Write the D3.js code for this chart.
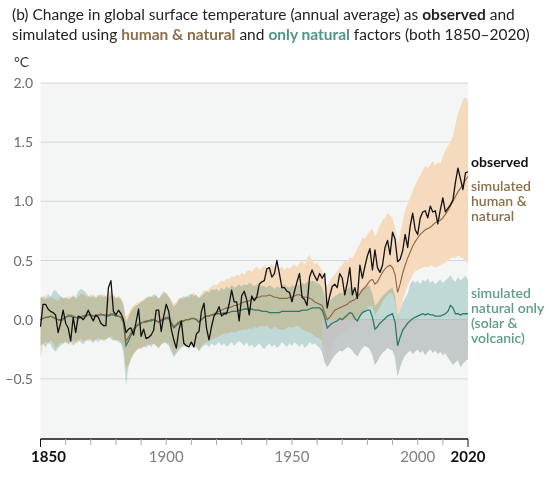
<!DOCTYPE html>
<html>
<head>
<meta charset="utf-8">
<script src="https://cdn.jsdelivr.net/npm/d3@7"></script>
<style>
  body { margin: 0; background: #fff; }
  svg text { font-family: Lato, "Open Sans", sans-serif; }
</style>
</head>
<body>
<div id="chart"></div>
<script>
// annual values, 1850-2020, degC relative to 1850-1900
var years = d3.range(1850, 2021);

var observed = [
  -0.06, 0.13, 0.13, 0.09, 0.07, 0.06, 0.04, -0.11, -0.03, 0.08,
  -0.03, -0.07, -0.18, 0.02, -0.11, 0.03, 0.02, 0.00, 0.03, 0.08,
  0.03, -0.01, 0.04, 0.02, -0.03, -0.05, -0.05, 0.27, 0.33, 0.07,
  0.04, 0.08, 0.05, 0.00, -0.11, -0.08, -0.07, -0.13, -0.02, 0.09,
  -0.14, -0.08, -0.16, -0.15, -0.13, -0.09, 0.08, 0.08, -0.10, 0.03,
  0.13, 0.07, -0.08, -0.17, -0.24, -0.09, -0.01, -0.20, -0.22, -0.23,
  -0.19, -0.23, -0.12, -0.10, 0.07, 0.14, -0.07, -0.17, -0.06, 0.03,
  0.06, 0.11, 0.03, 0.05, 0.05, 0.13, 0.25, 0.15, 0.15, -0.01,
  0.20, 0.24, 0.17, 0.04, 0.20, 0.16, 0.19, 0.30, 0.32, 0.33,
  0.43, 0.44, 0.36, 0.39, 0.50, 0.39, 0.27, 0.27, 0.24, 0.23,
  0.15, 0.24, 0.32, 0.39, 0.19, 0.17, 0.12, 0.36, 0.42, 0.37,
  0.33, 0.39, 0.35, 0.39, 0.10, 0.20, 0.28, 0.30, 0.27, 0.39,
  0.35, 0.21, 0.31, 0.44, 0.21, 0.27, 0.18, 0.46, 0.35, 0.45,
  0.54, 0.60, 0.42, 0.59, 0.44, 0.40, 0.46, 0.61, 0.67, 0.55,
  0.74, 0.68, 0.49, 0.51, 0.58, 0.72, 0.61, 0.79, 0.90, 0.76,
  0.72, 0.86, 0.91, 0.92, 0.86, 0.96, 0.91, 0.92, 0.81, 0.93,
  1.03, 0.91, 0.94, 0.97, 1.01, 1.16, 1.28, 1.19, 1.10, 1.24,
  1.25
];

// simulated human & natural: model mean and range
var humanMean = [
  0.00, 0.01, 0.02, 0.02, 0.03, 0.02, 0.01, 0.00, -0.01, 0.00,
  0.02, 0.04, 0.04, 0.03, 0.02, 0.01, 0.02, 0.03, 0.04, 0.04,
  0.04, 0.03, 0.03, 0.04, 0.05, 0.04, 0.04, 0.04, 0.05, 0.05,
  0.04, 0.03, 0.02, -0.02, -0.18, -0.15, -0.11, -0.08, -0.05, -0.04,
  -0.03, -0.02, -0.01, -0.01, 0.00, 0.00, -0.01, -0.02, 0.00, 0.01,
  0.02, 0.02, -0.02, -0.06, -0.04, -0.02, -0.01, -0.01, 0.00, 0.00,
  0.01, 0.01, 0.00, -0.02, 0.00, 0.02, 0.03, 0.03, 0.04, 0.05,
  0.06, 0.07, 0.08, 0.09, 0.10, 0.10, 0.11, 0.12, 0.12, 0.13,
  0.14, 0.15, 0.15, 0.16, 0.17, 0.18, 0.19, 0.19, 0.20, 0.20,
  0.20, 0.21, 0.20, 0.19, 0.19, 0.18, 0.18, 0.18, 0.18, 0.19,
  0.19, 0.20, 0.21, 0.21, 0.20, 0.19, 0.19, 0.18, 0.17, 0.15,
  0.14, 0.13, 0.12, 0.06, 0.00, 0.02, 0.05, 0.08, 0.09, 0.10,
  0.11, 0.12, 0.13, 0.15, 0.16, 0.17, 0.19, 0.22, 0.25, 0.27,
  0.30, 0.33, 0.34, 0.30, 0.32, 0.36, 0.40, 0.43, 0.45, 0.46,
  0.44, 0.38, 0.23, 0.30, 0.39, 0.46, 0.52, 0.57, 0.62, 0.66,
  0.69, 0.72, 0.74, 0.76, 0.77, 0.78, 0.80, 0.82, 0.83, 0.84,
  0.86, 0.89, 0.92, 0.96, 1.00, 1.04, 1.08, 1.11, 1.14, 1.18,
  1.21
];
var humanHigh = [
  0.20, 0.18, 0.21, 0.17, 0.20, 0.18, 0.17, 0.16, 0.19, 0.18,
  0.18, 0.20, 0.19, 0.21, 0.17, 0.19, 0.22, 0.21, 0.20, 0.19,
  0.22, 0.18, 0.20, 0.21, 0.19, 0.22, 0.20, 0.23, 0.24, 0.21,
  0.19, 0.20, 0.18, 0.14, 0.02, 0.05, 0.10, 0.12, 0.14, 0.15,
  0.16, 0.17, 0.19, 0.18, 0.20, 0.19, 0.21, 0.17, 0.20, 0.22,
  0.23, 0.20, 0.17, 0.13, 0.15, 0.18, 0.19, 0.17, 0.20, 0.18,
  0.21, 0.23, 0.20, 0.19, 0.22, 0.25, 0.24, 0.26, 0.28, 0.30,
  0.29, 0.31, 0.33, 0.32, 0.35, 0.34, 0.37, 0.36, 0.38, 0.37,
  0.40, 0.38, 0.41, 0.42, 0.40, 0.43, 0.45, 0.42, 0.44, 0.46,
  0.43, 0.45, 0.47, 0.44, 0.46, 0.43, 0.45, 0.42, 0.44, 0.43,
  0.45, 0.47, 0.44, 0.48, 0.50, 0.46, 0.52, 0.55, 0.50, 0.47,
  0.48, 0.45, 0.42, 0.34, 0.28, 0.32, 0.36, 0.38, 0.41, 0.44,
  0.46, 0.50, 0.48, 0.53, 0.52, 0.56, 0.60, 0.64, 0.70, 0.68,
  0.72, 0.75, 0.77, 0.70, 0.74, 0.80, 0.84, 0.86, 0.90, 0.88,
  0.86, 0.78, 0.64, 0.72, 0.83, 0.92, 0.98, 1.03, 1.09, 1.14,
  1.18, 1.22, 1.26, 1.30, 1.28, 1.31, 1.34, 1.30, 1.33, 1.32,
  1.38, 1.43, 1.47, 1.50, 1.55, 1.65, 1.74, 1.80, 1.86, 1.88,
  1.85
];
var humanLow = [
  -0.32, -0.22, -0.18, -0.21, -0.17, -0.20, -0.24, -0.22, -0.19, -0.21,
  -0.18, -0.20, -0.22, -0.17, -0.19, -0.20, -0.16, -0.18, -0.17, -0.19,
  -0.16, -0.18, -0.17, -0.15, -0.18, -0.16, -0.17, -0.15, -0.14, -0.16,
  -0.18, -0.17, -0.19, -0.24, -0.42, -0.38, -0.33, -0.29, -0.27, -0.25,
  -0.23, -0.24, -0.21, -0.22, -0.20, -0.21, -0.22, -0.24, -0.21, -0.20,
  -0.19, -0.20, -0.25, -0.30, -0.27, -0.24, -0.23, -0.22, -0.21, -0.22,
  -0.20, -0.21, -0.23, -0.26, -0.22, -0.20, -0.19, -0.18, -0.17, -0.16,
  -0.15, -0.14, -0.13, -0.12, -0.12, -0.11, -0.10, -0.11, -0.10, -0.09,
  -0.09, -0.08, -0.09, -0.07, -0.08, -0.06, -0.07, -0.06, -0.05, -0.06,
  -0.05, -0.07, -0.08, -0.06, -0.07, -0.08, -0.09, -0.08, -0.07, -0.06,
  -0.07, -0.06, -0.05, -0.06, -0.08, -0.09, -0.10, -0.11, -0.12, -0.14,
  -0.15, -0.16, -0.18, -0.26, -0.33, -0.28, -0.22, -0.18, -0.15, -0.13,
  -0.12, -0.10, -0.08, -0.06, -0.05, -0.03, 0.00, 0.03, 0.06, 0.08,
  0.10, 0.12, 0.11, 0.04, 0.07, 0.11, 0.15, 0.18, 0.21, 0.23,
  0.22, 0.15, 0.00, 0.08, 0.16, 0.23, 0.29, 0.33, 0.38, 0.41,
  0.42, 0.43, 0.44, 0.45, 0.44, 0.46, 0.45, 0.44, 0.45, 0.46,
  0.47, 0.48, 0.50, 0.52, 0.53, 0.52, 0.54, 0.53, 0.52, 0.50,
  0.47
];

// simulated natural only (solar & volcanic): model mean and range
var naturalMean = [
  0.00, 0.01, 0.02, 0.02, 0.03, 0.02, 0.01, 0.00, 0.00, 0.01,
  0.02, 0.03, 0.03, 0.02, 0.02, 0.01, 0.02, 0.03, 0.03, 0.04,
  0.04, 0.03, 0.03, 0.04, 0.04, 0.04, 0.03, 0.03, 0.04, 0.04,
  0.03, 0.03, 0.02, -0.03, -0.22, -0.18, -0.13, -0.09, -0.06, -0.04,
  -0.03, -0.02, -0.02, -0.01, -0.01, 0.00, -0.01, -0.02, -0.01, 0.00,
  0.01, 0.01, -0.03, -0.07, -0.05, -0.03, -0.02, -0.01, 0.00, 0.00,
  0.01, 0.01, 0.00, -0.02, 0.00, 0.02, 0.03, 0.03, 0.04, 0.04,
  0.05, 0.05, 0.05, 0.06, 0.06, 0.06, 0.07, 0.07, 0.07, 0.08,
  0.08, 0.09, 0.09, 0.09, 0.09, 0.08, 0.08, 0.08, 0.07, 0.07,
  0.07, 0.06, 0.06, 0.06, 0.06, 0.06, 0.07, 0.07, 0.07, 0.07,
  0.07, 0.07, 0.07, 0.07, 0.08, 0.08, 0.08, 0.09, 0.10, 0.10,
  0.10, 0.10, 0.08, 0.02, -0.07, -0.05, -0.03, -0.02, -0.01, 0.01,
  0.00, 0.02, 0.04, 0.06, 0.05, 0.01, -0.01, 0.03, 0.06, 0.07,
  0.08, 0.08, 0.02, -0.08, -0.06, -0.03, -0.01, 0.01, 0.03, 0.04,
  0.05, -0.02, -0.22, -0.15, -0.09, -0.06, -0.03, -0.01, 0.01, 0.02,
  0.03, 0.04, 0.05, 0.04, 0.05, 0.04, 0.04, 0.03, 0.03, 0.03,
  0.04, 0.05, 0.07, 0.12, 0.10, 0.05, 0.05, 0.04, 0.05, 0.05,
  0.05
];
var naturalHigh = [
  0.18, 0.20, 0.17, 0.22, 0.19, 0.24, 0.25, 0.22, 0.20, 0.18,
  0.19, 0.17, 0.18, 0.20, 0.19, 0.24, 0.26, 0.25, 0.23, 0.20,
  0.19, 0.21, 0.18, 0.20, 0.22, 0.19, 0.20, 0.18, 0.21, 0.20,
  0.18, 0.19, 0.17, 0.12, -0.02, 0.02, 0.07, 0.10, 0.12, 0.13,
  0.15, 0.16, 0.18, 0.20, 0.19, 0.22, 0.20, 0.18, 0.21, 0.24,
  0.22, 0.19, 0.15, 0.11, 0.13, 0.17, 0.18, 0.20, 0.19, 0.21,
  0.22, 0.20, 0.21, 0.18, 0.20, 0.22, 0.24, 0.23, 0.26, 0.25,
  0.26, 0.24, 0.27, 0.25, 0.28, 0.26, 0.29, 0.27, 0.28, 0.30,
  0.28, 0.30, 0.29, 0.31, 0.30, 0.28, 0.30, 0.27, 0.29, 0.28,
  0.27, 0.29, 0.28, 0.26, 0.28, 0.27, 0.29, 0.30, 0.28, 0.27,
  0.29, 0.28, 0.30, 0.29, 0.31, 0.30, 0.32, 0.31, 0.33, 0.32,
  0.31, 0.30, 0.27, 0.20, 0.12, 0.15, 0.18, 0.20, 0.21, 0.23,
  0.22, 0.24, 0.26, 0.28, 0.26, 0.22, 0.20, 0.24, 0.27, 0.28,
  0.29, 0.28, 0.22, 0.12, 0.14, 0.17, 0.20, 0.22, 0.24, 0.26,
  0.27, 0.20, 0.02, 0.08, 0.14, 0.18, 0.22, 0.30, 0.33, 0.31,
  0.33, 0.30, 0.34, 0.32, 0.35, 0.31, 0.33, 0.30, 0.32, 0.34,
  0.31, 0.33, 0.35, 0.38, 0.34, 0.32, 0.36, 0.33, 0.35, 0.37,
  0.34
];
var naturalLow = [
  -0.22, -0.20, -0.24, -0.19, -0.21, -0.25, -0.27, -0.24, -0.22, -0.20,
  -0.19, -0.21, -0.18, -0.22, -0.20, -0.17, -0.19, -0.21, -0.18, -0.16,
  -0.18, -0.20, -0.17, -0.19, -0.16, -0.18, -0.17, -0.15, -0.16, -0.18,
  -0.17, -0.19, -0.20, -0.28, -0.56, -0.40, -0.33, -0.29, -0.26, -0.24,
  -0.25, -0.22, -0.24, -0.21, -0.23, -0.20, -0.22, -0.24, -0.21, -0.19,
  -0.20, -0.22, -0.27, -0.32, -0.29, -0.26, -0.24, -0.22, -0.23, -0.21,
  -0.22, -0.24, -0.23, -0.27, -0.24, -0.22, -0.21, -0.23, -0.20, -0.22,
  -0.21, -0.19, -0.22, -0.20, -0.23, -0.21, -0.19, -0.22, -0.20, -0.18,
  -0.20, -0.22, -0.19, -0.23, -0.21, -0.24, -0.22, -0.20, -0.23, -0.25,
  -0.22, -0.20, -0.23, -0.21, -0.24, -0.22, -0.19, -0.21, -0.23, -0.20,
  -0.22, -0.19, -0.21, -0.23, -0.20, -0.24, -0.22, -0.19, -0.21, -0.20,
  -0.22, -0.24, -0.28, -0.36, -0.40, -0.37, -0.33, -0.30, -0.28, -0.26,
  -0.27, -0.25, -0.23, -0.24, -0.26, -0.29, -0.31, -0.27, -0.24, -0.22,
  -0.23, -0.25, -0.30, -0.38, -0.35, -0.31, -0.28, -0.26, -0.24, -0.25,
  -0.26, -0.32, -0.48, -0.40, -0.34, -0.30, -0.28, -0.26, -0.29, -0.27,
  -0.25, -0.28, -0.26, -0.30, -0.27, -0.25, -0.28, -0.26, -0.29, -0.27,
  -0.30, -0.28, -0.32, -0.35, -0.38, -0.36, -0.34, -0.40, -0.37, -0.35,
  -0.33
];

var yTicks = [2.0, 1.5, 1.0, 0.5, 0.0, -0.5];
var xLabels = [1850, 1900, 1950, 2000, 2020];

var svg = d3.select("#chart").append("svg").attr("width", 550).attr("height", 490);

var x = d3.scaleLinear().domain([1850, 2020]).range([40.5, 468]);
var y = d3.scaleLinear().domain([-1, 2]).range([438, 83]);

// title
var title = svg.append("text").attr("x", 12).attr("y", 20)
    .attr("font-size", 15.5).attr("fill", "#222");
title.append("tspan").text("(b) Change in global surface temperature (annual average) as ");
title.append("tspan").attr("font-weight", 700).text("observed");
title.append("tspan").text(" and");
var title2 = svg.append("text").attr("x", 12).attr("y", 40)
    .attr("font-size", 15.5).attr("fill", "#222");
title2.append("tspan").text("simulated using ");
title2.append("tspan").attr("font-weight", 700).attr("fill", "#8d6e48").text("human & natural");
title2.append("tspan").text(" and ");
title2.append("tspan").attr("font-weight", 700).attr("fill", "#4f9784").text("only natural");
title2.append("tspan").text(" factors (both 1850\u20132020)");

svg.append("text").attr("x", 14).attr("y", 67).attr("font-size", 14)
    .attr("fill", "#333").text("\u00b0C");

// plot background
svg.append("rect").attr("x", x(1850)).attr("y", y(2))
    .attr("width", x(2020) - x(1850)).attr("height", y(-1) - y(2))
    .attr("fill", "#f4f5f5");

svg.append("g").selectAll("line").data(yTicks).enter().append("line")
    .attr("x1", x(1850)).attr("x2", x(2020))
    .attr("y1", function(d) { return y(d); }).attr("y2", function(d) { return y(d); })
    .attr("stroke", "#d6d6d6").attr("stroke-width", 1);

svg.append("g").selectAll("text").data(yTicks).enter().append("text")
    .attr("x", 33).attr("y", function(d) { return y(d) + 5; })
    .attr("text-anchor", "end").attr("font-size", 14).attr("fill", "#6b6b6b")
    .text(function(d) { return d3.format(".1f")(d).replace("-", "\u2212"); });

// bands
var humanBand = d3.area()
    .x(function(d, i) { return x(years[i]); })
    .y0(function(d, i) { return y(humanLow[i]); })
    .y1(function(d, i) { return y(humanHigh[i]); });
var naturalBand = d3.area()
    .x(function(d, i) { return x(years[i]); })
    .y0(function(d, i) { return y(naturalLow[i]); })
    .y1(function(d, i) { return y(naturalHigh[i]); });

svg.append("path").attr("d", humanBand(years)).attr("fill", "#f5dabd");
svg.append("path").attr("d", naturalBand(years)).attr("fill", "#94c6c0")
    .attr("opacity", 0.5).style("mix-blend-mode", "multiply");

// grey lower part of the natural-only band after the 1960s
svg.append("clipPath").attr("id", "lowclip").append("rect")
    .attr("x", x(1962)).attr("y", y(0))
    .attr("width", x(2020) - x(1962)).attr("height", y(-1) - y(0));
svg.append("path").attr("d", naturalBand(years)).attr("fill", "#c4c6c7")
    .attr("opacity", 0.85).attr("clip-path", "url(#lowclip)");

// lines
var line = function(vals) {
    return d3.line()
        .x(function(d, i) { return x(years[i]); })
        .y(function(d) { return y(d); })(vals);
};
svg.append("path").attr("d", line(naturalMean)).attr("fill", "none")
    .attr("stroke", "#2f7a66").attr("stroke-width", 1.3);
svg.append("path").attr("d", line(humanMean)).attr("fill", "none")
    .attr("stroke", "#8b6542").attr("stroke-width", 1.1);
svg.append("path").attr("d", line(observed)).attr("fill", "none")
    .attr("stroke", "#111").attr("stroke-width", 1.3).attr("stroke-linejoin", "round");

// x axis
var xAxis = svg.append("g");
xAxis.append("line").attr("x1", x(1850)).attr("x2", x(2020))
    .attr("y1", 439).attr("y2", 439).attr("stroke", "#111").attr("stroke-width", 1.5);
xAxis.selectAll("line.tick").data(d3.range(1850, 2021, 10)).enter().append("line")
    .attr("class", "tick")
    .attr("x1", function(d) { return x(d); }).attr("x2", function(d) { return x(d); })
    .attr("y1", 439)
    .attr("y2", function(d) { return (d == 1850 || d == 2020) ? 447 : 445; })
    .attr("stroke", function(d) { return (d == 1850 || d == 2020) ? "#111" : "#aaa"; })
    .attr("stroke-width", 1);
xAxis.selectAll("text").data(xLabels).enter().append("text")
    .attr("x", function(d) { return d == 1850 ? x(d) + 8 : x(d); })
    .attr("y", 462).attr("text-anchor", "middle").attr("font-size", 15)
    .attr("font-weight", function(d) { return (d == 1850 || d == 2020) ? 700 : 400; })
    .attr("fill", function(d) { return (d == 1850 || d == 2020) ? "#111" : "#808080"; })
    .text(function(d) { return d; });

// series labels, one text per line
function label(lines, y0, color, weight) {
    lines.forEach(function(s, i) {
        svg.append("text").attr("x", 471).attr("y", y0 + i * 15)
            .attr("font-size", 14).attr("fill", color).attr("font-weight", weight)
            .text(s);
    });
}
label(["observed"], 167, "#111", 700);
label(["simulated", "human &", "natural"], 191, "#8d6e48", 600);
label(["simulated", "natural only", "(solar &", "volcanic)"], 298, "#5c9c8c", 600);
</script>
</body>
</html>
